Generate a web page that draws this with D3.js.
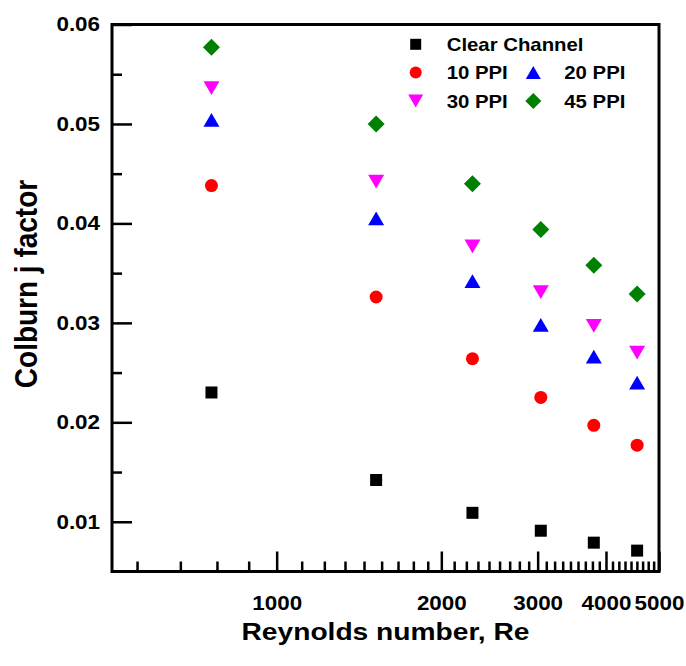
<!DOCTYPE html>
<html lang="en">
<head>
  <meta charset="UTF-8">
  <title>Colburn j factor vs Reynolds number</title>
  <script src="https://d3js.org/d3.v7.min.js"></script>
  <style>
    body { margin: 0; background: #fff; }
    text { font-family: "Liberation Sans", Arial, sans-serif; font-weight: bold; fill: #000; }
  </style>
</head>
<body>
<svg id="chart" width="686" height="666"></svg>
<script>
// data
const reynolds = [760, 1520, 2280, 3040, 3800, 4560];
const clearChannel = [0.0230, 0.0142, 0.0109, 0.0091, 0.0079, 0.0071];
const ppi10 = [0.0438, 0.0326, 0.0264, 0.0225, 0.0197, 0.0177];
const ppi20 = [0.0504, 0.0405, 0.0342, 0.0298, 0.0266, 0.0240];
const ppi30 = [0.0536, 0.0442, 0.0377, 0.0331, 0.0297, 0.0270];
const ppi45 = [0.0577, 0.0500, 0.0440, 0.0394, 0.0358, 0.0329];

const xMajor = [1000, 2000, 3000, 4000, 5000];
const yMajor = [0.01, 0.02, 0.03, 0.04, 0.05, 0.06];

const svg = d3.select('#chart');
const plotL = 112, plotR = 659, plotT = 24.5, plotB = 571.5;
const stretch = 1.15; // text in the reference is a bit wide

const x = d3.scaleLog().domain([500, 5000]).range([plotL, plotR]);
const y = d3.scaleLinear().domain([0.005, 0.06]).range([plotB, plotT]);

// custom markers centred on their bounding box (like Origin)
const upTri = { draw(ctx, s) { const w = s / 2, h = s * 0.43; ctx.moveTo(0, -h); ctx.lineTo(w, h); ctx.lineTo(-w, h); ctx.closePath(); } };
const downTri = { draw(ctx, s) { const w = s / 2, h = s * 0.43; ctx.moveTo(0, h); ctx.lineTo(w, -h); ctx.lineTo(-w, -h); ctx.closePath(); } };
const square = { draw(ctx, s) { const h = s / 2; ctx.rect(-h, -h, s, s); } };
const diamond = { draw(ctx, s) { const h = s / 2; ctx.moveTo(0, -h); ctx.lineTo(h, 0); ctx.lineTo(0, h); ctx.lineTo(-h, 0); ctx.closePath(); } };
const circle = { draw(ctx, s) { const r = s / 2; ctx.moveTo(r, 0); ctx.arc(0, 0, r, 0, 2 * Math.PI); } };

const series = [
  { name: 'Clear Channel', values: clearChannel, color: '#000000', shape: square, size: 12 },
  { name: '10 PPI', values: ppi10, color: '#ff0000', shape: circle, size: 13 },
  { name: '20 PPI', values: ppi20, color: '#0000ff', shape: upTri, size: 16 },
  { name: '30 PPI', values: ppi30, color: '#ff00ff', shape: downTri, size: 16 },
  { name: '45 PPI', values: ppi45, color: '#008000', shape: diamond, size: 17 }
];

// minor ticks: 8 evenly spaced values between majors
const xMinor = [];
[0].concat(xMajor).forEach((m, i, arr) => {
  if (i === arr.length - 1) return;
  const step = (arr[i + 1] - m) / 9;
  for (let k = 1; k < 9; k++) {
    const v = m + k * step;
    if (v > 500 && v < 5000) xMinor.push(v);
  }
});
const yMinor = yMajor.map(v => v - 0.005).filter(v => v > 0.005);

// x axis
svg.append('g')
  .attr('transform', `translate(0,${plotB})`)
  .call(d3.axisBottom(x).tickValues(xMinor).tickSize(-10).tickFormat(''))
  .call(g => g.select('.domain').remove())
  .call(g => g.selectAll('line').attr('stroke', '#000').attr('stroke-width', 2.5));

svg.append('g')
  .attr('transform', `translate(0,${plotB})`)
  .call(d3.axisBottom(x).tickValues(xMajor).tickSize(-20).tickPadding(25).tickFormat(d3.format('d')))
  .call(g => g.select('.domain').remove())
  .call(g => g.selectAll('line').attr('stroke', '#000').attr('stroke-width', 2.5))
  .call(g => g.selectAll('text')
    .attr('font-size', 19.5)
    .attr('transform', `scale(${stretch},1)`));

// y axis
svg.append('g')
  .attr('transform', `translate(${plotL},0)`)
  .call(d3.axisLeft(y).tickValues(yMinor).tickSize(-10).tickFormat(''))
  .call(g => g.select('.domain').remove())
  .call(g => g.selectAll('line').attr('stroke', '#000').attr('stroke-width', 2.5));

svg.append('g')
  .attr('transform', `translate(${plotL},0)`)
  .call(d3.axisLeft(y).tickValues(yMajor).tickSize(-20).tickPadding(10.4).tickFormat(d3.format('.2f')))
  .call(g => g.select('.domain').remove())
  .call(g => g.selectAll('line').attr('stroke', '#000').attr('stroke-width', 2.5))
  .call(g => g.selectAll('text')
    .attr('font-size', 19.5)
    .attr('transform', `scale(${stretch},1)`));

// frame
svg.append('rect')
  .attr('x', plotL).attr('y', plotT)
  .attr('width', plotR - plotL).attr('height', plotB - plotT)
  .attr('fill', 'none').attr('stroke', '#000').attr('stroke-width', 3);

// points
series.forEach(s => {
  const sym = d3.symbol().type(s.shape).size(s.size);
  svg.append('g').selectAll('path')
    .data(reynolds.map((r, i) => [r, s.values[i]]))
    .join('path')
    .attr('d', sym)
    .attr('transform', d => `translate(${x(d[0])},${y(d[1])})`)
    .attr('fill', s.color);
});

// legend
const legendPos = [
  { mx: 415.7, my: 44.3 },
  { mx: 415.7, my: 72.5 },
  { mx: 533.3, my: 72.5 },
  { mx: 415.7, my: 101 },
  { mx: 533.3, my: 101 }
];
const legend = svg.append('g');
series.forEach((s, i) => {
  const p = legendPos[i];
  legend.append('path')
    .attr('d', d3.symbol().type(s.shape).size(s.size - 1)())
    .attr('transform', `translate(${p.mx},${p.my})`)
    .attr('fill', s.color);
  legend.append('text')
    .attr('transform', `translate(${p.mx + 31},${p.my + 6.6}) scale(${stretch},1)`)
    .attr('font-size', 17.7)
    .text(s.name);
});

// axis titles
svg.append('text')
  .attr('transform', `translate(${(plotL + plotR) / 2},640) scale(${stretch},1)`)
  .attr('text-anchor', 'middle')
  .attr('font-size', 24.5)
  .text('Reynolds number, Re');

svg.append('text')
  .attr('transform', `translate(37,284) scale(${stretch},1) rotate(-90)`)
  .attr('text-anchor', 'middle')
  .attr('font-size', 28)
  .text('Colburn j factor');
</script>
</body>
</html>
